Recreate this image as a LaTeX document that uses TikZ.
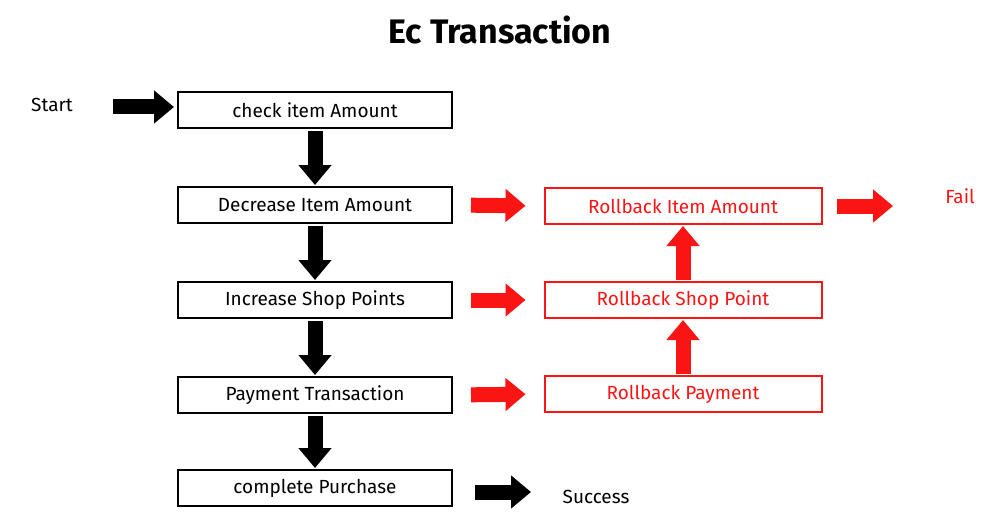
\documentclass[tikz,border=0pt]{standalone}
\usepackage{fontspec}
\setmainfont{Fira Sans}
\usetikzlibrary{arrows.meta}
\definecolor{myred}{RGB}{250,20,20}
\begin{document}
\begin{tikzpicture}[x=1pt,y=-1pt,
  box/.style={draw,line width=2pt,minimum width=274pt,minimum height=36pt,inner sep=0pt,font=\fontsize{19}{22}\selectfont},
  rbox/.style={box,draw=myred,text=myred,minimum width=277pt},
  blk/.style={line width=15pt,-{Triangle[length=20pt,width=32pt]}},
  lbl/.style={font=\fontsize{19}{22}\selectfont}]
\useasboundingbox (0,0) rectangle (1000,532);
\node[font=\bfseries\fontsize{34}{38}\selectfont] (title) at (500,30) {Ec Transaction};
\node[lbl] (start) at (52,105) {Start};
\node[box] (b1) at (315,110) {check item Amount};
\node[box] (b2) at (315,205) {Decrease Item Amount};
\node[box] (b3) at (315,300) {Increase Shop Points};
\node[box] (b4) at (315,395) {Payment Transaction};
\node[box] (b5) at (315,488) {complete Purchase};
\node[rbox] (r1) at (683,206) {Rollback Item Amount};
\node[rbox] (r2) at (683,300) {Rollback Shop Point};
\node[rbox] (r3) at (683,394) {Rollback Payment};
\node[lbl,text=myred] (fail) at (960,196) {Fail};
\node[lbl] (succ) at (596,497) {Success};
\coordinate (sa) at (113,107);
\coordinate (sb) at (174,107);
\draw[blk] (sa) -- (sb);
\foreach \a/\b in {b1/b2,b2/b3,b3/b4,b4/b5}
  \draw[blk,shorten <=2pt,shorten >=1pt] (\a.south) -- (\b.north);
\foreach \a/\b in {b2/r1,b3/r2,b4/r3}
  \draw[blk,myred,shorten <=18pt,shorten >=18pt] (\a.east) -- (\b.west);
\draw[blk,myred,shorten <=1pt,shorten >=1pt] (r2.north) -- (r1.south);
\draw[blk,myred,shorten <=1pt,shorten >=1pt] (r3.north) -- (r2.south);
\coordinate (fa) at (837,206);
\coordinate (fb) at (893,206);
\draw[blk,myred] (fa) -- (fb);
\coordinate (ka) at (475,492);
\coordinate (kb) at (531,492);
\draw[blk] (ka) -- (kb);
\end{tikzpicture}
\end{document}
